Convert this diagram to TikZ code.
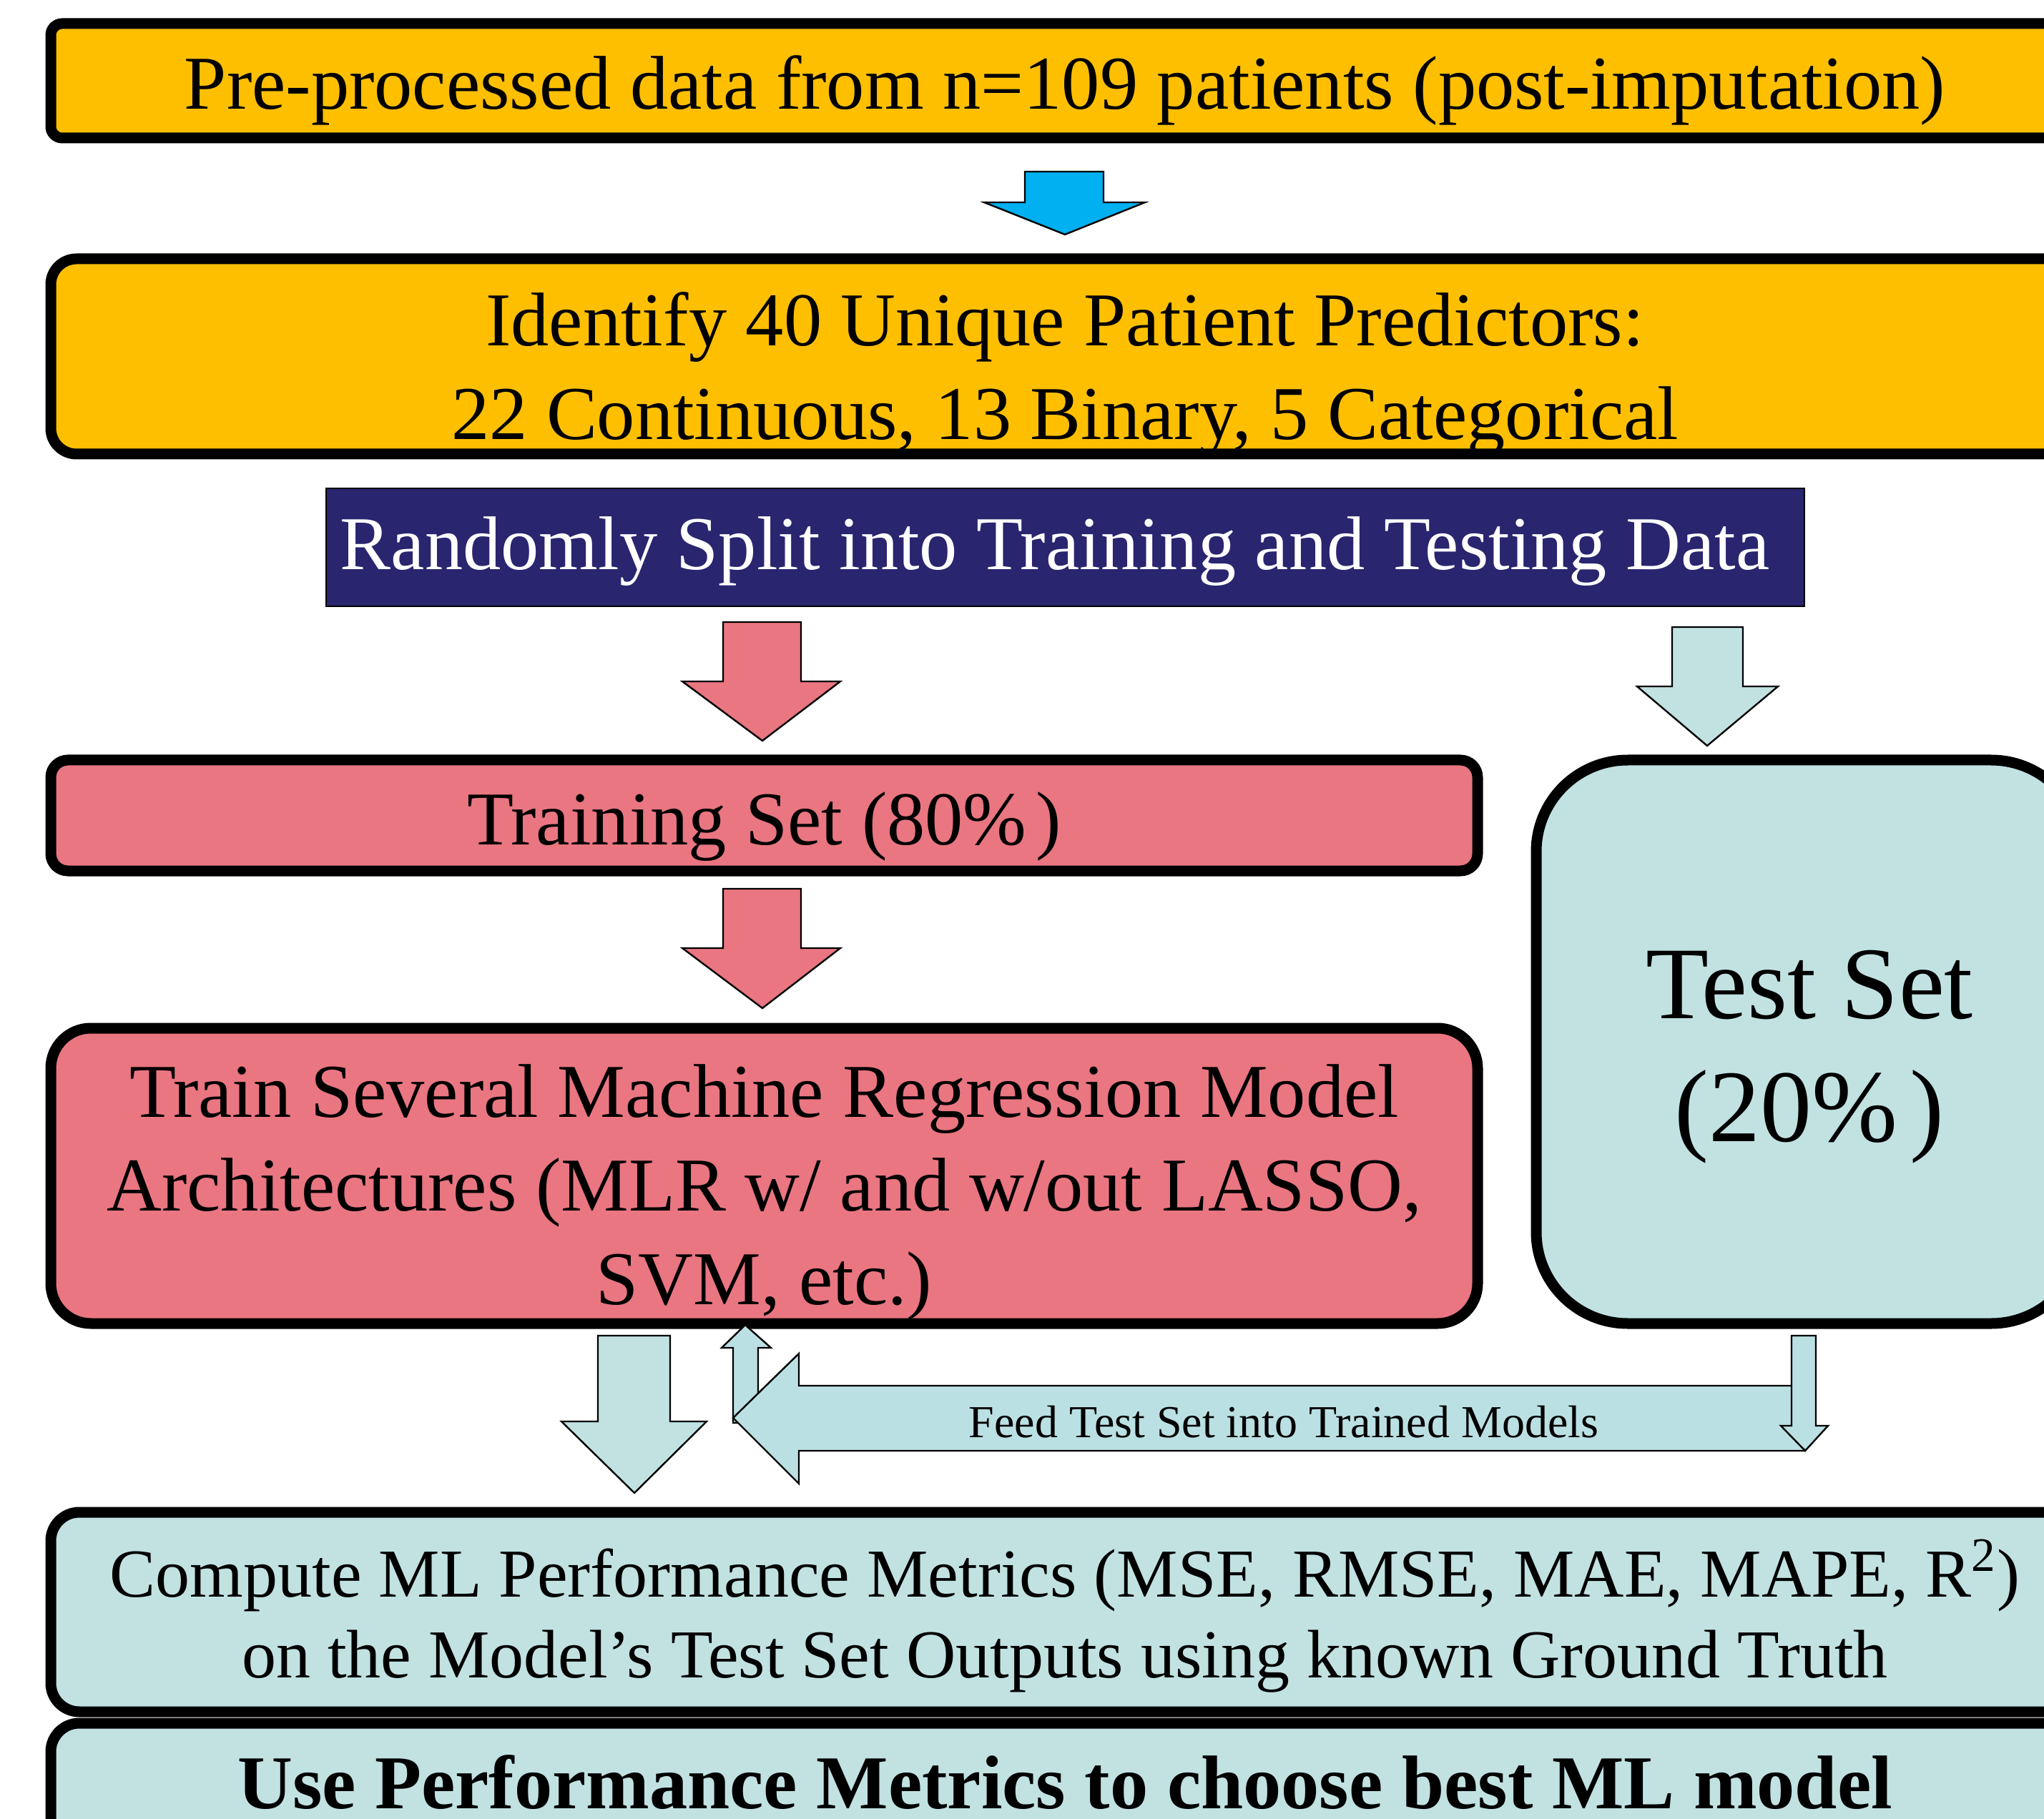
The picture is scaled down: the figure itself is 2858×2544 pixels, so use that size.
\documentclass[tikz,border=0pt]{standalone}
\usepackage{fontspec}
\setmainfont{Liberation Serif}
\definecolor{gold}{HTML}{FDBF00}
\definecolor{navy}{HTML}{29256F}
\definecolor{rose}{HTML}{E97681}
\definecolor{tealbox}{HTML}{C2E2E2}
\definecolor{tealarrow}{HTML}{BBE0E3}
\definecolor{sky}{HTML}{00B0F0}
\tikzset{
  box/.style={draw=black, line width=3.75pt, inner sep=0pt},
  label/.style={align=center, inner sep=0pt},
  barrow/.style={draw=black, line width=0.6pt, line join=miter},
  bigtext/.style={font=\fontsize{26.6}{32.8}\selectfont},
  midtext/.style={font=\fontsize{24}{28.2}\selectfont},
}
\begin{document}
\begin{tikzpicture}[x=0.25pt,y=-0.25pt]
\useasboundingbox (0,0) rectangle (2858,2544);
\fill[white] (0,0) rectangle (2858,2544);

% boxes
\node[box, fill=gold, rounded corners=4pt, minimum width=709pt, minimum height=40pt] (pre) at (1489,113) {};
\node[label, bigtext] (pretext) at (1489,126) {Pre-processed data from n=109 patients (post-imputation)};

\node[box, fill=gold, rounded corners=9pt, minimum width=709pt, minimum height=68.25pt] (pred) at (1489,498.5) {};
\node[label, bigtext] (predtext) at (1489,523) {Identify 40 Unique Patient Predictors:\\22 Continuous, 13 Binary, 5 Categorical};

\node[draw=black, line width=0.5pt, fill=navy, inner sep=0pt, minimum width=516.75pt, minimum height=41.25pt] (split) at (1489.5,765.5) {};
\node[label, bigtext, text=white] (splittext) at (1475,771) {Randomly Split into Training and Testing Data};

\node[box, fill=rose, rounded corners=6pt, minimum width=498.75pt, minimum height=38.75pt] (trainset) at (1068.5,1140.5) {};
\node[label, bigtext] (trainsettext) at (1068.5,1156) {Training Set (80\%\kern0.12em)};

\node[box, fill=rose, rounded corners=14pt, minimum width=498.75pt, minimum height=103.25pt] (train) at (1068.5,1644.5) {};
\node[label, bigtext] (traintext) at (1068.5,1668) {Train Several Machine Regression Model\\Architectures (MLR w/ and w/out LASSO,\\SVM, etc.)};

\node[box, fill=tealbox, rounded corners=32pt, minimum width=191pt, minimum height=197pt] (testset) at (2530,1457) {};
\node[label, font=\fontsize{36}{43}\selectfont] (testsettext) at (2530,1478) {Test Set\\(20\%\kern0.12em)};

\node[box, fill=tealbox, rounded corners=10pt, minimum width=709pt, minimum height=69.75pt] (compute) at (1489,2254.5) {};
\node[label, midtext] (computetext) at (1489,2260) {Compute ML Performance Metrics (MSE, RMSE, MAE, MAPE, R\textsuperscript{2})\\on the Model’s Test Set Outputs using known Ground Truth};

\node[box, fill=tealbox, rounded corners=10pt, minimum width=709pt, minimum height=72.5pt] (choose) at (1489,2555) {};
\node[label, font=\fontsize{26.6}{32}\selectfont\bfseries] (choosetext) at (1489,2493) {Use Performance Metrics to choose best ML model};

% block arrows
\draw[barrow, fill=sky] (1433,240) -- (1543,240) -- (1543,283) -- (1601,283) -- (1489,328) -- (1376,283) -- (1433,283) -- cycle;
\draw[barrow, fill=rose] (1011,870) -- (1120,870) -- (1120,953) -- (1175,953) -- (1066,1036) -- (954,953) -- (1011,953) -- cycle;
\draw[barrow, fill=tealbox] (2338,877) -- (2437,877) -- (2437,960) -- (2486,960) -- (2387,1043) -- (2289,960) -- (2338,960) -- cycle;
\draw[barrow, fill=rose] (1011,1243) -- (1120,1243) -- (1120,1326) -- (1175,1326) -- (1066,1410) -- (954,1326) -- (1011,1326) -- cycle;
\draw[barrow, fill=tealbox] (836,1868) -- (937,1868) -- (937,1988) -- (988,1988) -- (887,2088) -- (785,1988) -- (836,1988) -- cycle;
\draw[barrow, fill=tealarrow] (1025,1990) -- (1025,1885) -- (1009,1885) -- (1042,1853) -- (1078,1885) -- (1060,1885) -- (1060,1990) -- cycle;
\draw[barrow, fill=tealarrow] (1025,1983) -- (1117,1893) -- (1117,1938) -- (2524,1938) -- (2524,2029) -- (1117,2029) -- (1117,2075) -- cycle;
\draw[barrow, fill=tealarrow] (2505,1868) -- (2539,1868) -- (2539,1994) -- (2556,1994) -- (2524,2029) -- (2490,1994) -- (2505,1994) -- cycle;
\node[font=\fontsize{16}{19}\selectfont, inner sep=0pt] (feed) at (1795,1989) {Feed Test Set into Trained Models};
\end{tikzpicture}
\end{document}
